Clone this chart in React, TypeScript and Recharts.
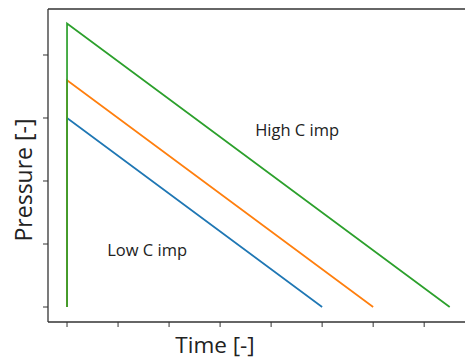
import { Line, LineChart, ReferenceDot, XAxis, YAxis } from "recharts"

// each curve: rises at t=0, then decays linearly to zero
const lowPeak = 3
const midPeak = 3.6
const highPeak = 4.5

const lowEnd = 5
const midEnd = 6
const highEnd = 7.5

const xTicks = [0, 1, 2, 3, 4, 5, 6, 7]
const yTicks = [0, 1, 2, 3, 4]

const lowSeries = [
  { t: 0, p: 0 },
  { t: 0, p: lowPeak },
  { t: lowEnd, p: 0 },
]
const midSeries = [
  { t: 0, p: 0 },
  { t: 0, p: midPeak },
  { t: midEnd, p: 0 },
]
const highSeries = [
  { t: 0, p: 0 },
  { t: 0, p: highPeak },
  { t: highEnd, p: 0 },
]

const notes = [
  { t: 4.51, p: 2.8, text: "High C imp" },
  { t: 1.57, p: 0.91, text: "Low C imp" },
]

const font = "'Open Sans', 'Noto Sans', sans-serif"
const spine = "#333"

export default function App() {
  return (
    <div style={{ position: "absolute", left: 0, top: 0, width: 465, height: 360, overflow: "hidden" }}>
      <LineChart width={465} height={360} margin={{ top: 0, right: 0, bottom: 0, left: 0 }}>
        <XAxis
          xAxisId="top"
          orientation="top"
          type="number"
          dataKey="t"
          domain={[-0.373, 7.8]}
          allowDataOverflow
          height={9}
          tick={false}
          tickLine={false}
          axisLine={{ stroke: spine, strokeWidth: 1.3 }}
        />
        <XAxis
          type="number"
          dataKey="t"
          domain={[-0.373, 7.8]}
          ticks={xTicks}
          allowDataOverflow
          height={38}
          tickFormatter={() => ""}
          tickSize={5}
          tickLine={{ stroke: spine }}
          axisLine={{ stroke: spine, strokeWidth: 1.3 }}
        />
        <YAxis
          type="number"
          dataKey="p"
          domain={[-0.238, 4.73]}
          ticks={yTicks}
          allowDataOverflow
          width={48}
          tickFormatter={() => ""}
          tickSize={5}
          tickLine={{ stroke: spine }}
          axisLine={{ stroke: spine, strokeWidth: 1.3 }}
        />
        <Line data={lowSeries} dataKey="p" stroke="#1f77b4" strokeWidth={1.7} dot={false} isAnimationActive={false} />
        <Line data={midSeries} dataKey="p" stroke="#ff7f0e" strokeWidth={1.7} dot={false} isAnimationActive={false} />
        <Line data={highSeries} dataKey="p" stroke="#2ca02c" strokeWidth={1.7} dot={false} isAnimationActive={false} />
        {notes.map((n) => (
          <ReferenceDot
            key={n.text}
            x={n.t}
            y={n.p}
            r={0}
            stroke="none"
            fill="none"
            label={{
              value: n.text,
              position: "center",
              style: { fontFamily: font, fontSize: 16.5, fill: "#222" },
            }}
          />
        ))}
      </LineChart>
      <div
        style={{
          position: "absolute",
          left: 215,
          top: 334,
          transform: "translateX(-50%)",
          fontFamily: font,
          fontSize: 22.5,
          lineHeight: 1,
          color: "#222",
          whiteSpace: "nowrap",
        }}
      >
        Time [-]
      </div>
      <div
        style={{
          position: "absolute",
          left: 23,
          top: 180,
          transform: "translate(-50%, -50%) rotate(-90deg)",
          fontFamily: font,
          fontSize: 23,
          lineHeight: 1,
          color: "#222",
          whiteSpace: "nowrap",
        }}
      >
        Pressure [-]
      </div>
    </div>
  )
}
